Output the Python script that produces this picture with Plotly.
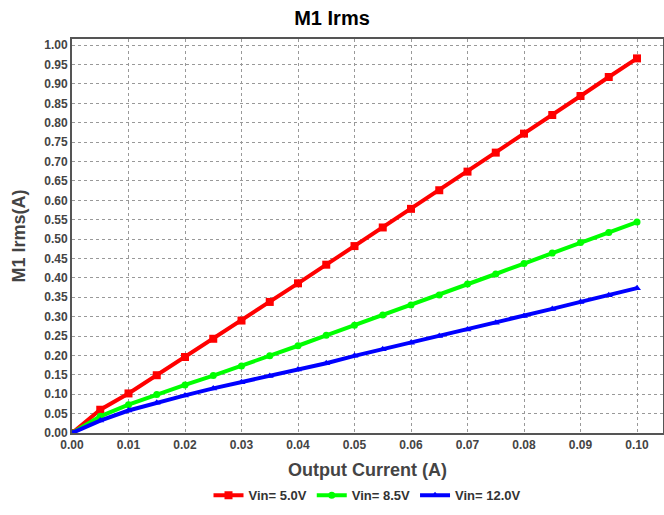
import plotly.graph_objects as go

current = [0.000, 0.005, 0.010, 0.015, 0.020, 0.025, 0.030, 0.035, 0.040, 0.045, 0.050,
           0.055, 0.060, 0.065, 0.070, 0.075, 0.080, 0.085, 0.090, 0.095, 0.100]
irms_5v0 = [0.000, 0.060, 0.102, 0.149, 0.196, 0.243, 0.290, 0.338, 0.386, 0.434, 0.482,
            0.530, 0.578, 0.626, 0.674, 0.723, 0.772, 0.820, 0.869, 0.918, 0.966]
irms_8v5 = [0.000, 0.043, 0.073, 0.099, 0.124, 0.148, 0.173, 0.199, 0.225, 0.252, 0.278,
            0.304, 0.330, 0.356, 0.384, 0.410, 0.437, 0.464, 0.491, 0.517, 0.544]
irms_12v0 = [0.000, 0.032, 0.058, 0.078, 0.097, 0.115, 0.131, 0.147, 0.164, 0.180, 0.199,
             0.216, 0.233, 0.250, 0.267, 0.284, 0.302, 0.320, 0.338, 0.355, 0.3735]

series_names = ["Vin= 5.0V", "Vin= 8.5V", "Vin= 12.0V"]
x_ticks = [0.00, 0.01, 0.02, 0.03, 0.04, 0.05, 0.06, 0.07, 0.08, 0.09, 0.10]
y_ticks = [round(i * 0.05, 2) for i in range(21)]

font_family = "Liberation Sans, Arial, sans-serif"

fig = go.Figure()
styles = [
    ("#ff0000", "square", 8),
    ("#00ff00", "circle", 7),
    ("#0000ff", "triangle-up", 7),
]
for name, ys, (col, sym, sz) in zip(series_names, [irms_5v0, irms_8v5, irms_12v0], styles):
    fig.add_trace(go.Scatter(
        x=current, y=ys, name=f"<b>{name}</b>", mode="lines+markers",
        line=dict(color=col, width=4),
        marker=dict(color=col, symbol=sym, size=sz),
    ))

fig.update_layout(
    width=664, height=515,
    margin=dict(l=72, r=1, t=39, b=82, autoexpand=False),
    paper_bgcolor="white", plot_bgcolor="white",
    font=dict(family=font_family, color="#333333"),
    title=dict(text="<b>M1 Irms</b>", x=0.5, xanchor="center", y=0.966, yanchor="middle",
               font=dict(size=20, color="#000000", family=font_family)),
    showlegend=True,
    legend=dict(orientation="h", x=0.5, xanchor="center", y=-0.158, yanchor="middle",
                font=dict(size=13, color="#333333", family=font_family),
                itemwidth=30, tracegroupgap=0),
)
fig.update_xaxes(
    range=[0, 0.1046], tickvals=x_ticks, ticktext=[f"<b>{v:.2f}</b>" for v in x_ticks],
    tickfont=dict(size=12, color="#444444"),
    showgrid=True, gridcolor="#999999", griddash="dot", gridwidth=1,
    showline=True, linecolor="#555555", linewidth=2, mirror=True,
    ticks="", zeroline=False,
    title=dict(text="<b>Output Current (A)</b>", font=dict(size=18, color="#444444"), standoff=12),
)
fig.update_yaxes(
    range=[0, 1.016], tickvals=y_ticks, ticktext=[f"<b>{v:.2f}</b>" for v in y_ticks],
    tickfont=dict(size=12, color="#444444"),
    showgrid=True, gridcolor="#999999", griddash="dot", gridwidth=1,
    showline=True, linecolor="#555555", linewidth=2, mirror=True,
    ticks="", zeroline=False,
    title=dict(text="<b>M1 Irms(A)</b>", font=dict(size=18, color="#444444"), standoff=14),
)

fig.write_html("out.html")
